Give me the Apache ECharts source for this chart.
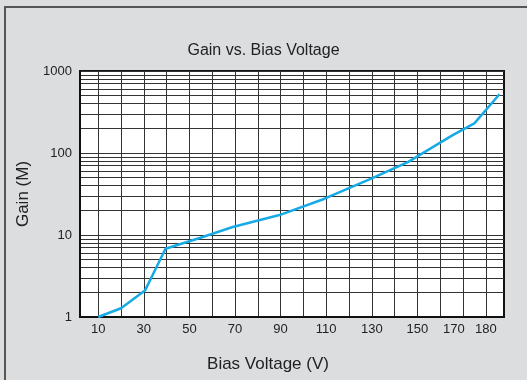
<!DOCTYPE html>
<html>
<head>
<meta charset="utf-8">
<script src="https://cdn.jsdelivr.net/npm/echarts@6/dist/echarts.min.js"></script>
<style>
  html, body { margin: 0; padding: 0; background: #dcdddf; }
  #chart { width: 527px; height: 380px; }
</style>
</head>
<body>
<div id="chart"></div>
<script>
// values
var voltage = [10, 20, 30.5, 39.5, 54.5, 69, 89.5, 109, 130, 146, 165.5, 175, 186];
var gain = [1, 1.28, 2.1, 6.8, 9.2, 12.5, 17.5, 27.5, 49, 78, 165, 230, 520];

var xGridValues = [10, 20, 30, 40, 50, 60, 70, 80, 90, 100, 110, 120, 130, 140, 150, 160, 170, 180];
var xLabelValues = [10, 30, 50, 70, 90, 110, 130, 150, 170, 180];
var yGridValues = [1, 2, 3, 4, 5, 6, 7, 8, 9, 10, 20, 30, 40, 50, 60, 70, 80, 90,
                   100, 200, 300, 400, 500, 600, 700, 800, 900, 1000];
var yLabelValues = [1, 10, 100, 1000];

var myChart = echarts.init(document.getElementById('chart'));

var data = voltage.map(function (v, i) { return [v, gain[i]]; });

option = {
  backgroundColor: '#dcdddf',
  animation: false,
  textStyle: { fontFamily: 'Liberation Sans, Arial, sans-serif' },
  title: {
    text: 'Gain vs. Bias Voltage',
    left: 'center',
    top: 38,
    textStyle: { fontSize: 16, fontWeight: 'normal', color: '#222', fontFamily: 'Liberation Sans, Arial, sans-serif' }
  },
  graphic: [
    { type: 'rect', shape: { x: 5, y: 6, width: 522, height: 2 }, style: { fill: '#555' } },
    { type: 'rect', shape: { x: 4, y: 6, width: 2, height: 374 }, style: { fill: '#555' } }
  ],
  grid: {
    left: 80, right: 23, top: 71, bottom: 63,
    show: true,
    backgroundColor: '#fff',
    borderColor: '#111',
    borderWidth: 2
  },
  xAxis: {
    type: 'value',
    min: 2,
    max: 188,
    name: 'Bias Voltage (V)',
    nameLocation: 'middle',
    nameGap: 39,
    nameTextStyle: { fontSize: 17, color: '#222', padding: [0, 48, 0, 0] },
    axisLine: { lineStyle: { color: '#111', width: 2 } },
    axisTick: { show: false, customValues: xGridValues },
    axisLabel: {
      customValues: xLabelValues,
      fontSize: 13,
      color: '#222',
      margin: 6,
      // the reference draws "170" a little left of its gridline
      formatter: function (v) { return v === 170 ? '{s|170}' : String(v); },
      rich: { s: { fontSize: 13, color: '#222', padding: [0, 18, 0, 0] } }
    },
    splitLine: { show: true, lineStyle: { color: '#333', width: 1 } }
  },
  yAxis: {
    type: 'log',
    logBase: 10,
    min: 1,
    max: 1000,
    name: 'Gain (M)',
    nameLocation: 'middle',
    nameGap: 44,
    nameTextStyle: { fontSize: 17, color: '#222' },
    axisLine: { show: true, lineStyle: { color: '#111', width: 2 } },
    axisTick: { show: false, customValues: yGridValues },
    axisLabel: {
      customValues: yLabelValues,
      fontSize: 13,
      color: '#222',
      margin: 8,
      formatter: function (v) { return String(v); }
    },
    splitLine: { show: true, lineStyle: { color: '#333', width: 1 } }
  },
  series: [{
    type: 'line',
    data: data,
    symbol: 'none',
    lineStyle: { color: '#16aae6', width: 2.5 }
  }]
};

myChart.setOption(option);
</script>
</body>
</html>
